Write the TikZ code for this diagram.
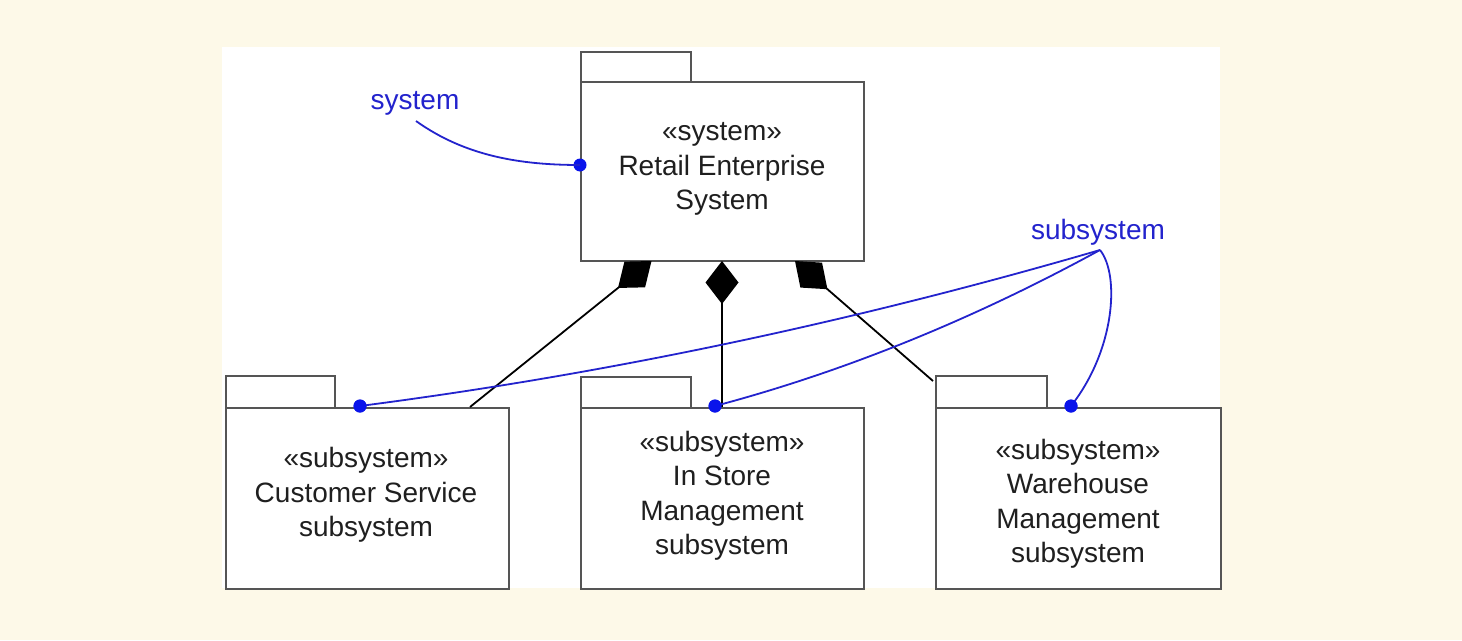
\documentclass[tikz,border=0pt]{standalone}
\usepackage{fontspec}
\setmainfont{Liberation Sans}
\usetikzlibrary{arrows.meta,calc}
\definecolor{bgcream}{RGB}{253,249,232}
\definecolor{annblue}{RGB}{35,35,205}
\definecolor{dotblue}{RGB}{10,20,235}
\definecolor{edgegray}{RGB}{85,85,85}
\begin{document}
\begin{tikzpicture}[x=1pt,y=-1pt,
  pkg/.style={draw=edgegray,line width=1.8pt,fill=white,inner sep=0pt,anchor=north west},
  lbl/.style={align=center,font=\fontsize{28}{34.5}\selectfont,text=black!88},
  ann/.style={font=\fontsize{28}{34}\selectfont,text=annblue},
  note/.style={draw=annblue,line width=1.8pt},
  dot/.style={circle,fill=dotblue,inner sep=0pt,minimum size=13pt},
  comp/.style={draw=black,line width=1.8pt,{Diamond[length=43pt,width=33pt]}-}
]
\useasboundingbox (0,0) rectangle (1462,640);
\fill[bgcream] (0,0) rectangle (1462,640);
\fill[white] (222,47) rectangle (1220,588);

% system package
\node[pkg,minimum width=110pt,minimum height=30pt] (systab) at (580,51) {};
\node[pkg,minimum width=283pt,minimum height=179pt] (sys) at (580,81) {};
\node[lbl] (systxt) at (722,169) {«system»\\Retail Enterprise\\System};

% customer service package
\node[pkg,minimum width=109pt,minimum height=32pt] (cstab) at (225,375) {};
\node[pkg,minimum width=283pt,minimum height=181pt] (cs) at (225,407) {};
\node[lbl] (cstxt) at (366,495) {«subsystem»\\Customer Service\\subsystem};

% in store package
\node[pkg,minimum width=110pt,minimum height=31pt] (istab) at (580,376) {};
\node[pkg,minimum width=283pt,minimum height=181pt] (is) at (580,407) {};
\node[lbl] (istxt) at (722,496) {«subsystem»\\In Store\\Management\\subsystem};

% warehouse package
\node[pkg,minimum width=111pt,minimum height=32pt] (whtab) at (935,375) {};
\node[pkg,minimum width=285pt,minimum height=181pt] (wh) at (935,407) {};
\node[lbl] (whtxt) at (1078,504) {«subsystem»\\Warehouse\\Management\\subsystem};

% composition connectors
\coordinate (f1) at (651.5,261);
\coordinate (e1) at (470,407);
\coordinate (f2) at (722,261);
\coordinate (e2) at (722,407);
\coordinate (f3) at (795,261);
\coordinate (e3) at (933,381);
\draw[comp] (f1) -- (e1);
\draw[comp] (f2) -- (e2);
\draw[comp] (f3) -- (e3);

% annotations
\node[ann] (syslbl) at (415,103) {system};
\coordinate (s0) at (416,121);
\node[dot] (d0) at (580,165) {};
\draw[note] (s0) .. controls (465,156) and (520,165) .. (d0.center);

\node[ann] (sublbl) at (1098,232) {subsystem};
\coordinate (hub) at (1100,250);
\node[dot] (d1) at (360,406) {};
\node[dot] (d2) at (715,406) {};
\node[dot] (d3) at (1071,406) {};
\draw[note] (hub) .. controls (853,322) and (607,374) .. (d1.center);
\draw[note] (hub) .. controls (972,320) and (843,372) .. (d2.center);
\draw[note] (hub) .. controls (1120,275) and (1115,350) .. (d3.center);
\node[dot] at (d1) {};
\node[dot] at (d2) {};
\node[dot] at (d3) {};
\end{tikzpicture}
\end{document}
